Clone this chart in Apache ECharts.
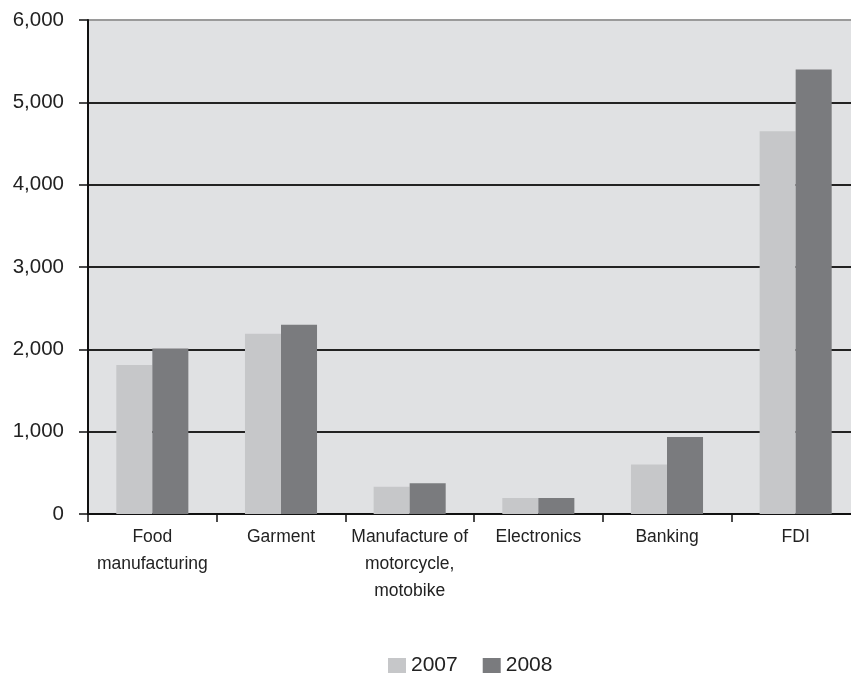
<!DOCTYPE html>
<html>
<head>
<meta charset="utf-8">
<script src="https://cdn.jsdelivr.net/npm/echarts@6/dist/echarts.min.js"></script>
<style>
  html, body { margin: 0; padding: 0; background: #ffffff; overflow: hidden; }
  /* the plot runs slightly past the right edge of the window */
  #chart { width: 860px; height: 674px; }
</style>
</head>
<body>
<div id="chart"></div>
<script>
// Sectors compared across two years
const categories = ['Food\nmanufacturing', 'Garment', 'Manufacture of\nmotorcycle,\nmotobike', 'Electronics', 'Banking', 'FDI'];
const values2007 = [1810, 2190, 330, 195, 600, 4650];
const values2008 = [2010, 2300, 375, 195, 935, 5400];
const seriesNames = ['2007', '2008'];

const chart = echarts.init(document.getElementById('chart'), null, { renderer: 'canvas' });

const baseFont = "'Liberation Sans', Arial, Helvetica, sans-serif";

chart.setOption({
  animation: false,
  backgroundColor: '#ffffff',
  grid: {
    left: 88,
    right: 0,
    top: 20,
    bottom: 160,
    show: true,
    backgroundColor: '#e0e1e3',
    borderWidth: 0
  },
  legend: {
    data: seriesNames,
    left: 383,
    top: 650,
    itemWidth: 18,
    itemHeight: 15,
    itemGap: 25,
    icon: 'rect',
    textStyle: { fontFamily: baseFont, fontSize: 21, color: '#222' }
  },
  xAxis: {
    type: 'category',
    data: categories,
    axisLine: { show: true, lineStyle: { color: '#111', width: 2 } },
    axisTick: { show: true, length: 8, lineStyle: { color: '#111', width: 1.5 } },
    axisLabel: {
      interval: 0,
      margin: 10,
      fontFamily: baseFont,
      fontSize: 17.5,
      lineHeight: 27,
      color: '#222'
    },
    splitLine: { show: false }
  },
  yAxis: {
    type: 'value',
    min: 0,
    max: 6000,
    interval: 1000,
    axisLine: { show: true, lineStyle: { color: '#111', width: 2 } },
    axisTick: { show: true, length: 9, lineStyle: { color: '#111', width: 1.5 } },
    axisLabel: {
      margin: 24,
      fontFamily: baseFont,
      fontSize: 20.5,
      color: '#222',
      formatter: v => v.toLocaleString('en-US')
    },
    splitLine: {
      show: true,
      lineStyle: {
        color: ['#222', '#222', '#222', '#222', '#222', '#222', '#9a9a9a'],
        width: 1.8
      }
    }
  },
  series: [
    {
      name: seriesNames[0],
      type: 'bar',
      data: values2007,
      barGap: '0%',
      barCategoryGap: '44%',
      itemStyle: { color: '#c6c7c9' }
    },
    {
      name: seriesNames[1],
      type: 'bar',
      data: values2008,
      itemStyle: { color: '#7a7b7e' }
    }
  ]
});
</script>
</body>
</html>
